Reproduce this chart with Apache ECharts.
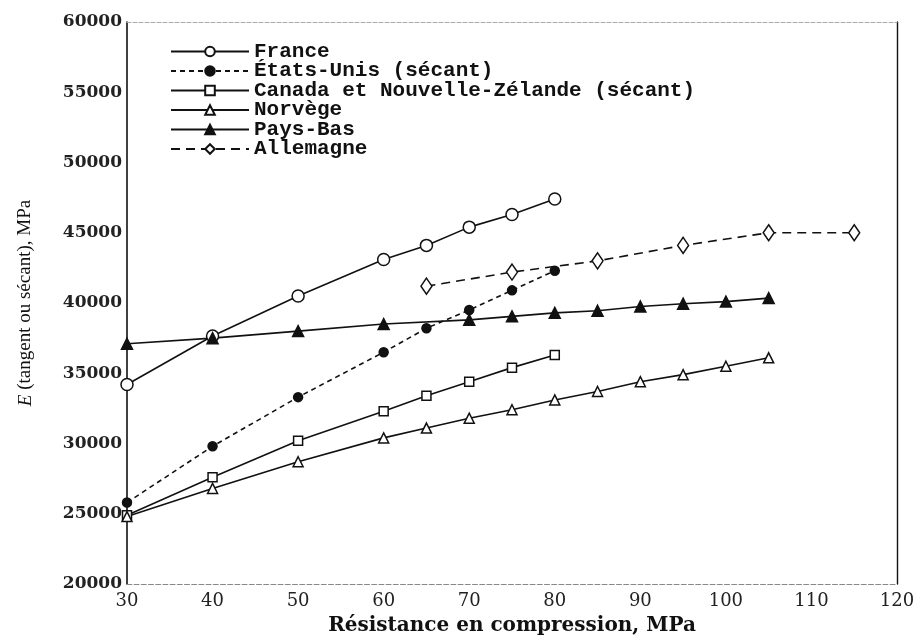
<!DOCTYPE html>
<html>
<head>
<meta charset="utf-8">
<script src="https://cdn.jsdelivr.net/npm/echarts@6/dist/echarts.min.js"></script>
<style>
html,body{margin:0;padding:0;background:#fff;}
#chart{width:922px;height:641px;}
</style>
</head>
<body>
<div id="chart"></div>
<script>
// Data
const seriesNames = ["France", "États-Unis (sécant)", "Canada et Nouvelle-Zélande (sécant)", "Norvège", "Pays-Bas", "Allemagne"];

const franceX = [30, 40, 50, 60, 65, 70, 75, 80];
const franceE = [34200, 37650, 40500, 43100, 44100, 45400, 46300, 47400];

const usaX = [30, 40, 50, 60, 65, 70, 75, 80];
const usaE = [25800, 29800, 33300, 36500, 38200, 39500, 40900, 42300];

const canadaX = [30, 40, 50, 60, 65, 70, 75, 80];
const canadaE = [24900, 27600, 30200, 32300, 33400, 34400, 35400, 36300];

const norwayX = [30, 40, 50, 60, 65, 70, 75, 80, 85, 90, 95, 100, 105];
const norwayE = [24800, 26800, 28700, 30400, 31100, 31800, 32400, 33100, 33700, 34400, 34900, 35500, 36100];

const nlX = [30, 40, 50, 60, 70, 75, 80, 85, 90, 95, 100, 105];
const nlE = [37100, 37500, 38000, 38500, 38800, 39050, 39300, 39450, 39750, 39950, 40100, 40350];

const germanyX = [65, 75, 85, 95, 105, 115];
const germanyE = [41200, 42200, 43000, 44100, 45000, 45000];

const xTicks = [30, 40, 50, 60, 70, 80, 90, 100, 110, 120];
const yTicks = [20000, 25000, 30000, 35000, 40000, 45000, 50000, 55000, 60000];

function pairs(xs, ys) { return xs.map((x, i) => [x, ys[i]]); }

const serif = "DejaVu Serif";

function mkSeries(name, xs, ys, symbol, size, dashed, filled) {
  return {
    name: name,
    type: "line",
    data: pairs(xs, ys),
    symbol: symbol,
    symbolSize: size,
    showAllSymbol: true,
    z: 3,
    lineStyle: { color: "#111", width: 1.6, type: dashed ? dashed : "solid" },
    itemStyle: { color: filled ? "#111" : "#fff", borderColor: "#111", borderWidth: 1.5 },
    emphasis: { disabled: true },
    animation: false
  };
}

const chart = echarts.init(document.getElementById("chart"), null, { renderer: "canvas" });
chart.setOption({
  backgroundColor: "#fff",
  animation: false,
  grid: { left: 127, right: 25, top: 22, bottom: 51, containLabel: false },
  legend: {
    orient: "vertical",
    left: 165,
    top: 36,
    itemWidth: 78,
    itemHeight: 12,
    itemGap: -1.5,
    selectedMode: false,
    textStyle: { fontFamily: "Liberation Mono", fontWeight: "bold", fontSize: 21, color: "#111" },
    data: seriesNames
  },
  xAxis: [{
    type: "value",
    min: 30, max: 120, interval: 10,
    name: "Résistance en compression, MPa",
    nameLocation: "middle",
    nameGap: 32,
    nameTextStyle: { fontFamily: serif, fontWeight: "bold", fontSize: 20, color: "#111" },
    axisLine: { show: true, lineStyle: { color: "#888", width: 1.2, type: "dashed" } },
    axisTick: { show: false },
    splitLine: { show: false },
    axisLabel: { fontFamily: serif, fontSize: 18, color: "#222", margin: 8 }
  }, {
    type: "value", position: "top", min: 30, max: 120, interval: 10,
    axisLine: { show: true, lineStyle: { color: "#aaa", width: 1, type: "dashed" } },
    axisTick: { show: false }, axisLabel: { show: false }, splitLine: { show: false }
  }],
  yAxis: [{
    type: "value",
    min: 20000, max: 60000, interval: 5000,
    name: "{i|E} (tangent ou sécant), MPa",
    nameLocation: "middle",
    nameGap: 92,
    nameTextStyle: {
      fontFamily: "Liberation Serif", fontSize: 19, color: "#111",
      rich: { i: { fontFamily: "Liberation Serif", fontStyle: "italic", fontSize: 19, color: "#111" } }
    },
    axisLine: { show: true, lineStyle: { color: "#111", width: 1.6 } },
    axisTick: { show: false },
    splitLine: { show: false },
    axisLabel: { fontFamily: serif, fontWeight: "bold", fontSize: 17, color: "#222", margin: 5,
      formatter: function (v) { return String(v); } }
  }, {
    type: "value", position: "right", min: 20000, max: 60000, interval: 5000,
    axisLine: { show: true, lineStyle: { color: "#111", width: 1.4 } },
    axisTick: { show: false }, axisLabel: { show: false }, splitLine: { show: false }
  }],
  series: [
    mkSeries(seriesNames[0], franceX, franceE, "circle", 12, null, false),
    mkSeries(seriesNames[1], usaX, usaE, "circle", 9, [5, 4], true),
    mkSeries(seriesNames[2], canadaX, canadaE, "rect", 9, null, false),
    mkSeries(seriesNames[3], norwayX, norwayE, "triangle", 10, null, false),
    mkSeries(seriesNames[4], nlX, nlE, "triangle", 11, null, true),
    mkSeries(seriesNames[5], germanyX, germanyE, "diamond", [11, 16], [9, 6], false)
  ]
});
</script>
</body>
</html>
